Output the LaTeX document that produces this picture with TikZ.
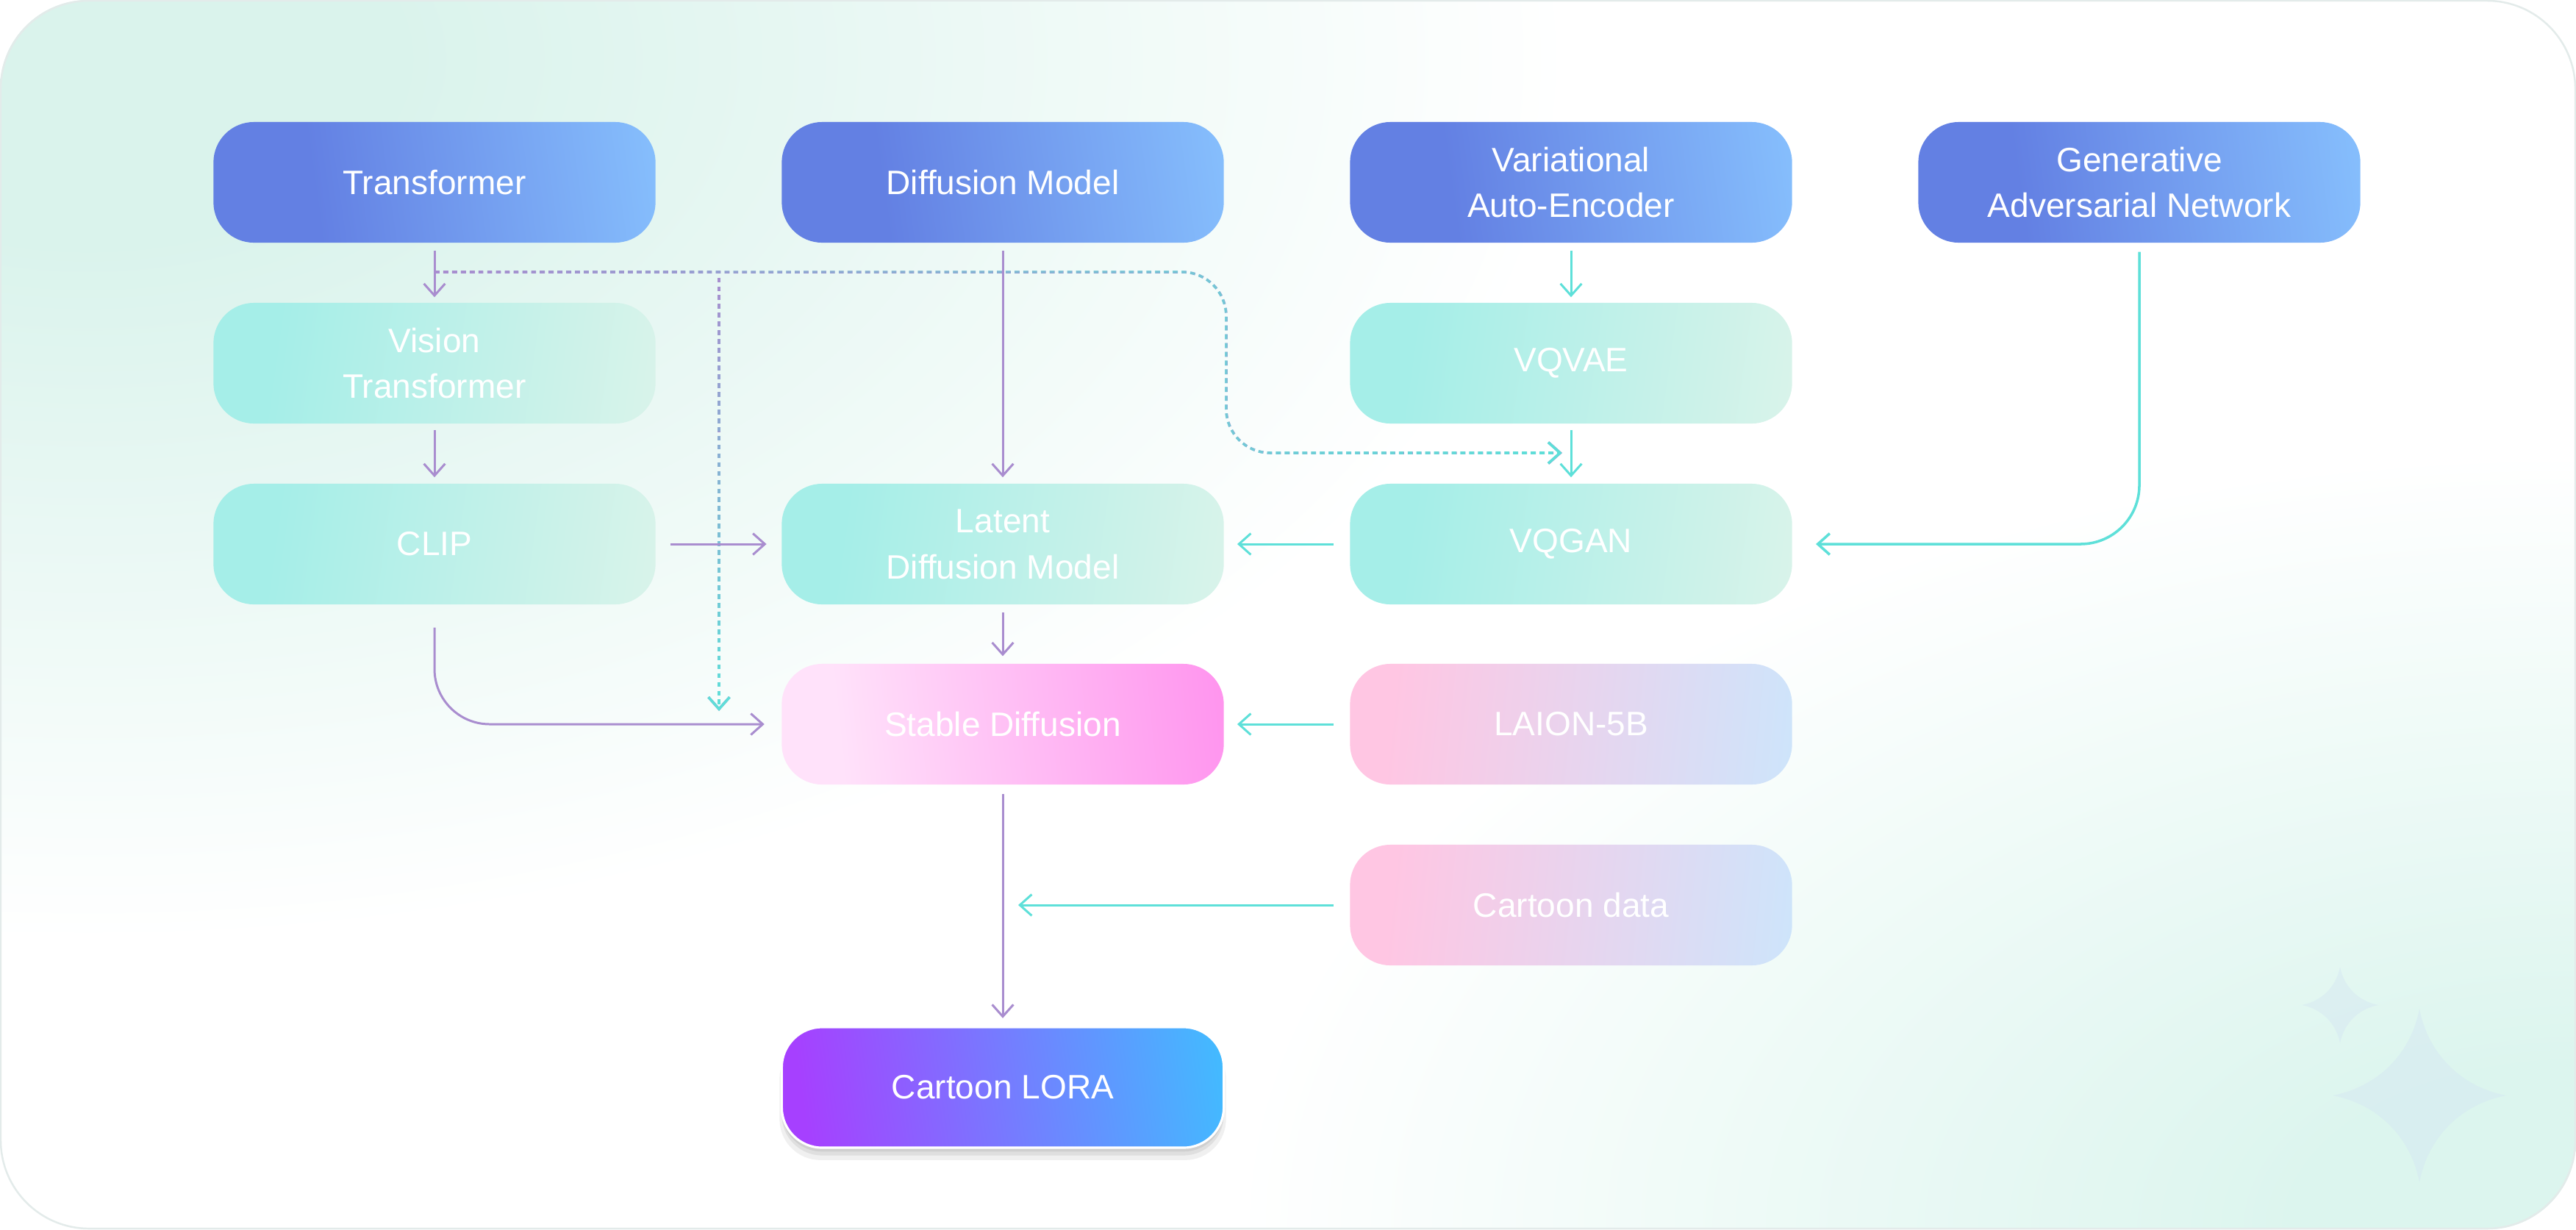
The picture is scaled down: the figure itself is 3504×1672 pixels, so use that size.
\documentclass[tikz,border=0pt]{standalone}
\usepackage{fontspec}
\setmainfont{Liberation Sans}
\usetikzlibrary{arrows.meta,shadows,fadings,calc}

\definecolor{pur}{HTML}{A98DCF}
\definecolor{tea}{HTML}{5EE0D9}
\definecolor{bluedark}{HTML}{6380E3}
\definecolor{bluelight}{HTML}{89C4FF}
\definecolor{tealA}{HTML}{A5EEE8}
\definecolor{tealB}{HTML}{E0F4EA}
\definecolor{pinkA}{HTML}{FFE2FA}
\definecolor{pinkB}{HTML}{FF93EE}
\definecolor{dataA}{HTML}{FFC6E3}
\definecolor{dataB}{HTML}{CBE6FC}
\definecolor{loraA}{HTML}{A640FF}
\definecolor{loraB}{HTML}{3EC0FF}
\definecolor{mintA}{HTML}{DAF3EC}
\definecolor{mintB}{HTML}{DCF5EE}
\definecolor{edgecol}{HTML}{E3EBEA}
\definecolor{starcol}{HTML}{D3E4F3}

\pgfdeclarehorizontalshading{blueshade}{100bp}{color(0bp)=(bluedark); color(35bp)=(bluedark); color(82bp)=(bluelight); color(100bp)=(bluelight)}
\pgfdeclarehorizontalshading{tealshade}{100bp}{color(0bp)=(tealA); color(30bp)=(tealA); color(85bp)=(tealB); color(100bp)=(tealB)}
\pgfdeclarehorizontalshading{pinkshade}{100bp}{color(0bp)=(pinkA); color(30bp)=(pinkA); color(78bp)=(pinkB); color(100bp)=(pinkB)}
\pgfdeclarehorizontalshading{datashade}{100bp}{color(0bp)=(dataA); color(28bp)=(dataA); color(80bp)=(dataB); color(100bp)=(dataB)}
\pgfdeclarehorizontalshading{lorashade}{100bp}{color(0bp)=(loraA); color(25bp)=(loraA); color(80bp)=(loraB); color(100bp)=(loraB)}

\pgfdeclareradialshading{glowTL}{\pgfpointorigin}{color(0bp)=(mintA); color(5bp)=(mintA); color(24bp)=(white); color(50bp)=(white)}
\pgfdeclareradialshading{glowBR}{\pgfpointorigin}{color(0bp)=(mintB); color(5bp)=(mintB); color(24bp)=(white); color(50bp)=(white)}

\tikzfading[name=fadeinright, left color=transparent!100, right color=transparent!0]
\tikzfading[name=fadeindown, top color=transparent!100, bottom color=transparent!0]

\newcommand{\mysparkle}[3]{%
  \fill[starcol, opacity=0.4]
    (#1,#2-#3) .. controls (#1+0.1*#3,#2-0.48*#3) and (#1+0.48*#3,#2-0.1*#3) .. (#1+#3,#2)
    .. controls (#1+0.48*#3,#2+0.1*#3) and (#1+0.1*#3,#2+0.48*#3) .. (#1,#2+#3)
    .. controls (#1-0.1*#3,#2+0.48*#3) and (#1-0.48*#3,#2+0.1*#3) .. (#1-#3,#2)
    .. controls (#1-0.48*#3,#2-0.1*#3) and (#1-0.1*#3,#2-0.48*#3) .. (#1,#2-#3) -- cycle;}

\tikzset{
  box/.style={rectangle, rounded corners=0.55cm, minimum width=6.01cm, minimum height=1.64cm,
    inner sep=0pt, align=center, text=white, font=\fontsize{13.1}{17.9}\selectfont},
  bluebox/.style={box, shading=blueshade, shading angle=8},
  tealbox/.style={box, shading=tealshade, shading angle=-8},
  pinkbox/.style={box, shading=pinkshade, shading angle=6},
  databox/.style={box, shading=datashade, shading angle=-6},
  lorabox/.style={box, shading=lorashade, shading angle=8, draw=white, line width=0.9pt,
    general shadow={fill=black, opacity=0.07, shadow yshift=-1.5pt},
    general shadow={fill=black, opacity=0.07, shadow yshift=-3pt},
    general shadow={fill=black, opacity=0.06, shadow yshift=-4.5pt, shadow scale=1.01}},
  arr/.style={line width=0.85pt, -{Straight Barb[length=4.6pt,width=8.2pt]}},
  parr/.style={arr, draw=pur},
  tarr/.style={arr, draw=tea},
  dashln/.style={line width=1pt, dash pattern=on 1.9pt off 1.5pt, -{Straight Barb[length=4.6pt,width=8.2pt]}},
}

\begin{document}
\begin{tikzpicture}[x=0.01cm, y=-0.01cm]
\useasboundingbox (0,0) rectangle (3504,1672);
% background
\fill[white] (0,0) rectangle (3504,1672);
\begin{scope}
  \clip[rounded corners=1.2cm] (0,0) rectangle (3504,1672);
  \shade[shading=glowBR] (3504,1672) ellipse [x radius=19cm, y radius=11cm];
  \shade[shading=glowTL] (120,80) ellipse [x radius=21cm, y radius=12.5cm];
\end{scope}
\draw[edgecol, line width=0.7pt, rounded corners=1.2cm] (1,1) rectangle (3503,1671);
\mysparkle{3183}{1367}{52}
\mysparkle{3291}{1490}{118}

% nodes
\node[bluebox] (tr)  at (591,248)  {Transformer};
\node[bluebox] (dm)  at (1364,248) {Diffusion Model};
\node[bluebox] (vae) at (2137,248) {Variational\\Auto-Encoder};
\node[bluebox] (gan) at (2910,248) {Generative\\Adversarial Network};

\node[tealbox] (vit)   at (591,494)  {Vision\\Transformer};
\node[tealbox] (vqvae) at (2137,494) {VQVAE};

\node[tealbox] (clip)  at (591,740)  {CLIP};
\node[tealbox] (ld)    at (1364,740) {Latent\\Diffusion Model};
\node[tealbox] (vqgan) at (2137,740) {VQGAN};

\node[pinkbox] (sd)    at (1364,985) {Stable Diffusion};
\node[databox] (laion) at (2137,985) {LAION-5B};
\node[databox] (cd)    at (2137,1231) {Cartoon data};
\node[lorabox] (lora)  at (1364,1479) {Cartoon LORA};

\coordinate (br)   at (591,370);
\coordinate (sdin) at (978,967);
\coordinate (dj)   at (1668,616);
\coordinate (vqin) at (2125,616);
\coordinate (cdend) at (1385,1231);

% dashed connectors (purple to teal)
\draw[dashln, pur] (br) -| (sdin);
\draw[dashln, tea, path fading=fadeindown] (br) -| (sdin);
\draw[dashln, pur, rounded corners=0.6cm] (br) -| (dj) -- (vqin);
\draw[dashln, tea, path fading=fadeinright, rounded corners=0.6cm] (br) -| (dj) -- (vqin);

% purple connectors
\draw[parr, shorten <=2.8pt, shorten >=2pt] (tr) -- (vit);
\draw[parr, shorten <=2.3pt, shorten >=2.3pt] (vit) -- (clip);
\draw[parr, shorten <=2.8pt, shorten >=2.3pt] (dm) -- (ld);
\draw[parr, shorten <=5.7pt, shorten >=5.7pt] (clip) -- (ld);
\draw[parr, shorten <=3pt, shorten >=2.8pt] (ld) -- (sd);
\draw[parr, shorten <=3.4pt, shorten >=3pt] (sd) -- (lora);
\draw[parr, rounded corners=0.75cm, shorten <=8.8pt, shorten >=6.5pt] (clip.south) |- (sd.west);

% teal connectors
\draw[tarr, shorten <=2.8pt, shorten >=2pt] (vae) -- (vqvae);
\draw[tarr, shorten <=2.3pt, shorten >=2.3pt] (vqvae) -- (vqgan);
\draw[tarr, shorten <=6.2pt, shorten >=5pt] (vqgan) -- (ld);
\draw[tarr, shorten <=6.2pt, shorten >=5pt] (laion) -- (sd);
\draw[tarr, shorten <=6.2pt] (cd) -- (cdend);
\draw[tarr, line width=1pt, rounded corners=0.8cm, shorten <=3.4pt, shorten >=9pt] (gan.south) |- (vqgan.east);
\end{tikzpicture}
\end{document}
